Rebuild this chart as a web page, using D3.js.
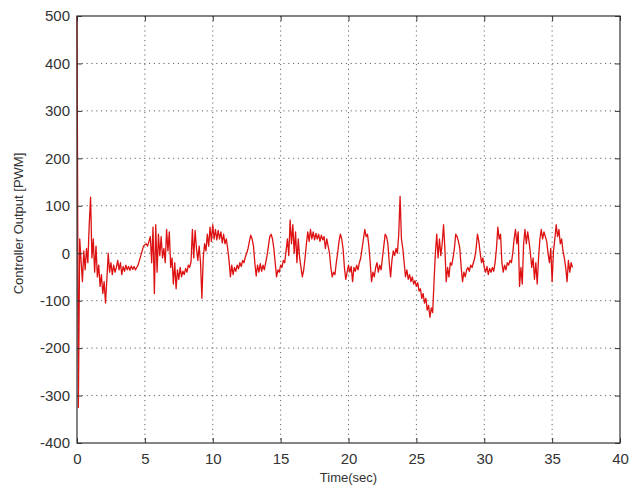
<!DOCTYPE html>
<html>
<head>
<meta charset="utf-8">
<script src="https://cdn.jsdelivr.net/npm/d3@7"></script>
<style>
  body { margin: 0; background: #fff; }
  text { font-family: "Liberation Sans", Arial, sans-serif; fill: #333; }
</style>
</head>
<body>
<svg id="chart"></svg>
<script>
// sample step of the logged controller output (sec)
let dt = 0.1;

// controller output [PWM], one value per sample
let output = [
  500, -325, 30, -15, -60, 5, -35, 10, -20, 60,
  118, -10, 30, -40, 15, -50, -25, -70, -45, -85,
  -60, -105, -55, 0, -40, -20, -45, -25, -40, -30,
  -15, -35, -20, -45, -28, -38, -25, -35, -28, -36,
  -27, -34, -28, -35, -30, -25, -15, -5, 5, 15,
  18, 20, 15, 25, 35, -20, 55, -85, 60, -40,
  40, -5, 35, -10, 10, -20, 50, 5, 45, -30,
  -10, -65, -20, -75, -35, -55, -30, -50, -38, -45,
  -32, -40, -25, -30, -18, 50, -10, 48, 10, -15,
  15, -20, -95, -10, 20, 5, 40, 15, 55, 25,
  60, 30, 50, 28, 48, 30, 45, 22, 40, 20,
  30, 10, -15, -50, -25, -45, -30, -38, -25, -33,
  -20, -28, -15, -20, -8, 0, 10, 25, 38, 30,
  15, -20, -48, -25, -40, -22, -38, -25, -35, -20,
  -5, 15, 35, 40, 30, 10, -20, -50, -35, -40,
  -25, -30, -15, -20, 5, 30, -5, 70, 20, 60,
  0, 45, -20, 30, -10, -30, -50, -35, -10, 20,
  45, 25, 50, 30, 45, 28, 42, 30, 40, 25,
  38, 28, 35, 10, 30, 15, 0, -30, -50, -40,
  -45, -20, 0, 25, 40, 30, 10, -30, -55, -40,
  -25, -40, -28, -60, -30, -38, -25, -35, -20, -10,
  10, 30, 50, 35, 40, 15, -20, -60, -40, -50,
  -30, -20, -40, -25, -35, -10, 15, 40, 35, 20,
  -20, -50, -15, 5, -5, 10, 0, 40, 120, 30,
  10, -20, -50, -35, -55, -45, -60, -50, -65, -58,
  -70, -62, -80, -75, -95, -85, -105, -95, -120, -110,
  -135, -115, -125, -60, 0, 40, -10, 30, -5, 20,
  60, 10, -60, -30, -50, -20, -25, -10, 10, 40,
  35, 25, 10, -30, -60, -40, -50, -35, -30, -38,
  -25, -30, -20, -10, 10, 40, 25, 0, -20, -10,
  -30, -40, -28, -45, -32, -40, -30, -38, -20, 10,
  55, 30, 40, -20, -40, -25, -35, -20, -25, -15,
  -20, 0, 30, 50, 20, 45, -70, -30, -65, 20,
  50, 20, 45, 25, 0, -30, -10, -55, -20, -65,
  -10, 30, 50, 30, 45, 35, 25, 0, -20, 10,
  -60, 5, 30, 60, 35, 50, 20, 30, 5, -10,
  -30, -60, -15, -40, -20, -30
];

let xTicks = [0, 5, 10, 15, 20, 25, 30, 35, 40];
let yTicks = [-400, -300, -200, -100, 0, 100, 200, 300, 400, 500];

function makeChart() {
  let w = 636;
  let h = 488;
  let left = 77, right = 620, top = 16, bottom = 443;

  let svg = d3.select('#chart')
    .attr('width', w)
    .attr('height', h);

  let xScale = d3.scaleLinear().domain([0, 40]).range([left, right]);
  let yScale = d3.scaleLinear().domain([-400, 500]).range([bottom, top]);

  // dotted grid
  let grid = svg.append('g')
    .attr('stroke', '#666')
    .attr('stroke-width', 1)
    .attr('stroke-dasharray', '1.2,3.6');
  grid.selectAll('.gx')
    .data(xTicks.slice(1, -1))
    .enter()
    .append('line')
    .attr('x1', d => xScale(d)).attr('x2', d => xScale(d))
    .attr('y1', top).attr('y2', bottom);
  grid.selectAll('.gy')
    .data(yTicks.slice(1, -1))
    .enter()
    .append('line')
    .attr('y1', d => yScale(d)).attr('y2', d => yScale(d))
    .attr('x1', left).attr('x2', right);

  // the signal
  let line = d3.line()
    .x((d, i) => xScale(i * dt))
    .y(d => yScale(d));

  svg.append('path')
    .datum(output)
    .attr('fill', 'none')
    .attr('stroke', '#dd1111')
    .attr('stroke-width', 1.3)
    .attr('stroke-linejoin', 'round')
    .attr('d', line);

  // axes, ticks pointing inward on all four sides
  let axisStyle = g => {
    g.select('.domain').remove();
    g.selectAll('.tick line').attr('stroke', '#333');
    g.selectAll('.tick text')
      .style('font-family', '"Liberation Sans", Arial, sans-serif')
      .style('font-size', '15px')
      .attr('fill', '#333');
  };
  let plain = d => String(d);

  svg.append('g')
    .attr('transform', `translate(0,${bottom})`)
    .call(d3.axisBottom(xScale).tickValues(xTicks).tickSize(-5).tickPadding(10).tickFormat(plain))
    .call(axisStyle);
  svg.append('g')
    .attr('transform', `translate(0,${top})`)
    .call(d3.axisTop(xScale).tickValues(xTicks).tickSize(-5).tickFormat(''))
    .call(axisStyle);
  svg.append('g')
    .attr('transform', `translate(${left},0)`)
    .call(d3.axisLeft(yScale).tickValues(yTicks).tickSize(-5).tickPadding(7).tickFormat(plain))
    .call(axisStyle);
  svg.append('g')
    .attr('transform', `translate(${right},0)`)
    .call(d3.axisRight(yScale).tickValues(yTicks).tickSize(-5).tickFormat(''))
    .call(axisStyle);

  svg.append('rect')
    .attr('x', left).attr('y', top)
    .attr('width', right - left).attr('height', bottom - top)
    .attr('fill', 'none')
    .attr('stroke', '#333')
    .attr('stroke-width', 1.2);

  // axis titles
  svg.append('text')
    .attr('x', (left + right) / 2)
    .attr('y', 482)
    .attr('text-anchor', 'middle')
    .style('font-size', '13px')
    .text('Time(sec)');

  svg.append('text')
    .attr('transform', `translate(23,${(top + bottom) / 2 - 6}) rotate(-90)`)
    .attr('text-anchor', 'middle')
    .style('font-size', '13px')
    .text('Controller Output [PWM]');
}

window.onload = function () {
  makeChart();
}
</script>
</body>
</html>
